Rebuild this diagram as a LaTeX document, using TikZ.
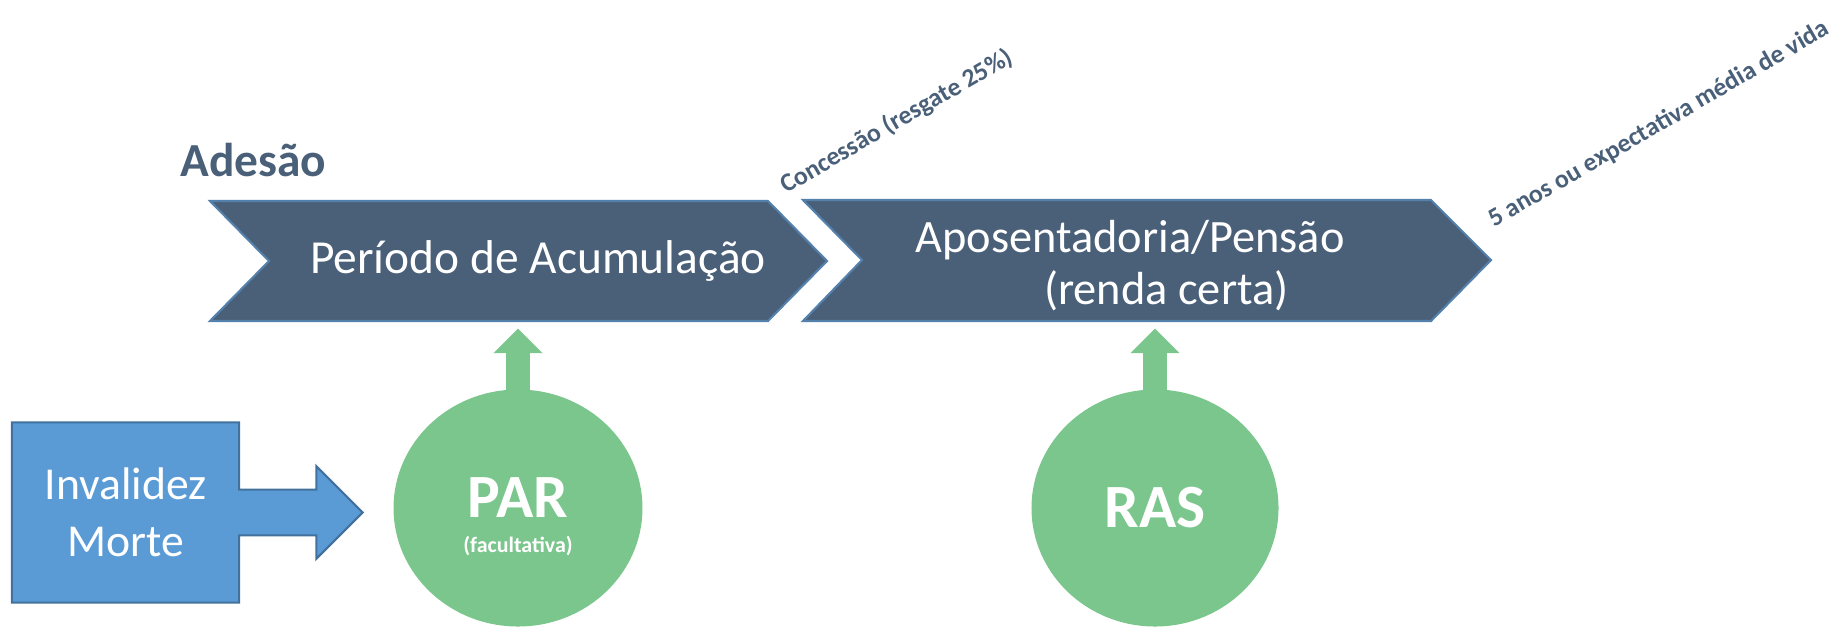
\documentclass[tikz,border=0pt]{standalone}
\usepackage{fontspec}
\setmainfont{Carlito}
\usetikzlibrary{arrows.meta,shapes.geometric,shapes.arrows}
\definecolor{slate}{RGB}{74,96,121}
\definecolor{slateline}{RGB}{84,128,172}
\definecolor{boxblue}{RGB}{91,155,213}
\definecolor{boxline}{RGB}{65,113,156}
\definecolor{leaf}{RGB}{122,198,140}
\begin{document}
\begin{tikzpicture}[x=0.02cm,y=-0.02cm,
  chev/.style={fill=slate,draw=slateline,line width=1.2pt,line join=miter},
  chevtext/.style={text=white,align=center},
  tag/.style={text=slate,font=\bfseries\fontsize{14.7pt}{16pt}\selectfont,anchor=base west,rotate=30,inner sep=0pt},
  ball/.style={ellipse,fill=leaf,text=white,inner sep=0pt,align=center,font=\bfseries},
  lift/.style={draw=leaf,line width=13.6pt,shorten >=4.3pt,shorten <=-3pt,-{Triangle[width=27.2pt,length=14pt]}}]
\useasboundingbox (0,0) rectangle (1846,627);

% Timeline chevrons
\path[chev] (210,201) -- (768,201) -- (827,261) -- (768,321) -- (210,321) -- (269,261) -- cycle;
\path[chev] (803,200) -- (1431,200) -- (1491,260) -- (1431,321) -- (803,321) -- (862,260) -- cycle;
\coordinate (accbot) at (520,321);
\coordinate (aposbot) at (1156,321);

\node[chevtext,anchor=base,font=\fontsize{27pt}{30pt}\selectfont] (acc) at (538,273) {Período de Acumulação};
\node[chevtext,font=\fontsize{26.4pt}{29.5pt}\selectfont] (apos) at (1130,266)
  {Aposentadoria/Pensão\\\hspace*{41.4pt}(renda certa)};

% Milestones
\node[text=slate,anchor=base west,inner sep=0pt,font=\bfseries\fontsize{27pt}{30pt}\selectfont] (adesao) at (180,176) {Adesão};
\node[tag] (conc) at (786,194) {Concessão (resgate 25\%)};
\node[tag] (prazo) at (1494,228) {5 anos ou expectativa média de vida};

% Risk cover
\node[shape=arrow box,fill=boxblue,draw=boxline,line width=1.2pt,text=white,align=center,
  minimum width=129.3pt,minimum height=102.6pt,inner sep=0pt,
  arrow box arrows={east:69.7pt from border},arrow box shaft width=26.1pt,
  arrow box head extend=13.3pt,arrow box head indent=0pt,arrow box tip angle=90,
  font=\fontsize{26pt}{32.3pt}\selectfont] (risco) at (125.5,512.5) {Invalidez\\Morte};

% Contributions
\node[ball,minimum width=141.7pt,minimum height=134.9pt,font=\bfseries\fontsize{35pt}{20pt}\selectfont] (par) at (518,508)
  {\rule{0pt}{33pt}PAR\\{\fontsize{12.5pt}{14pt}\selectfont(facultativa)}};
\node[ball,minimum width=140.6pt,minimum height=134.9pt,font=\bfseries\fontsize{35pt}{40pt}\selectfont] (ras) at (1155,508) {RAS};

\draw[lift] (par.north) -- (par.north |- accbot);
\draw[lift] (ras.north) -- (ras.north |- aposbot);
\end{tikzpicture}
\end{document}
